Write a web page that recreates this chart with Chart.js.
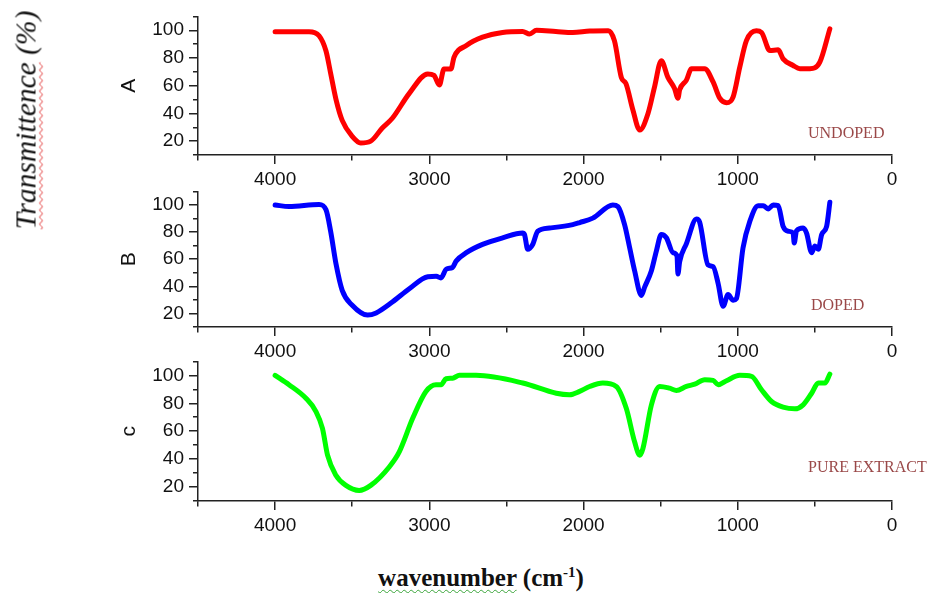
<!DOCTYPE html>
<html>
<head>
<meta charset="utf-8">
<script src="https://cdn.jsdelivr.net/npm/chart.js@4.4.1/dist/chart.umd.min.js"></script>
<style>
  html, body { margin: 0; padding: 0; background: #fff; overflow: hidden; }
  #wrap { position: relative; width: 927px; height: 593px; }
  canvas { position: absolute; left: 0; }
  .tag { position: absolute; transform: translateY(-50%); line-height: 1; white-space: nowrap;
         font: 16px "Liberation Serif", "Times New Roman", serif; color: #9a4848; }
  #ylab { position: absolute; left: 26px; top: 120px; white-space: nowrap; line-height: 1;
          transform: translate(-50%, -50%) rotate(-90deg);
          font: italic 29.5px "Liberation Serif", "Times New Roman", serif; color: #111; }
  #xlab { position: absolute; left: 481px; top: 578px; white-space: nowrap; line-height: 1;
          transform: translate(-50%, -50%);
          font: bold 25px "Liberation Serif", "Times New Roman", serif; color: #111; }
  .spell { text-decoration: underline wavy #e03030; text-decoration-thickness: 1px; text-underline-offset: 3px; }
  .gram { text-decoration: underline wavy #3aa53a; text-decoration-thickness: 1px; text-underline-offset: 3px; }
  sup { font-size: 60%; }
</style>
</head>
<body>
<div id="wrap">
  <canvas id="chart-a"></canvas>
  <canvas id="chart-b"></canvas>
  <canvas id="chart-c"></canvas>
  <div id="ylab"><span class="spell">Transmittence</span> (%)</div>
  <div id="xlab"><span class="gram">wavenumber</span> (cm<sup>-1</sup>)</div>
  <div class="tag" style="left:808px; top:133px;">UNDOPED</div>
  <div class="tag" style="left:811px; top:305px;">DOPED</div>
  <div class="tag" style="left:808px; top:467px;">PURE EXTRACT</div>
</div>
<script>
// wavenumber (cm-1) and transmittance (%)
const undopedWn = [4000, 3780, 3715, 3670, 3640, 3605, 3565, 3500, 3445, 3380,
  3305, 3240, 3130, 3010, 2970, 2935, 2905, 2860, 2840, 2760,
  2655, 2525, 2395, 2350, 2305, 2180, 2070, 1960, 1840, 1800,
  1755, 1725, 1680, 1636, 1582, 1540, 1496, 1453, 1410, 1388,
  1377, 1333, 1300, 1215, 1160, 1117, 1073, 1030, 987, 944,
  880, 846, 792, 738, 706, 641, 597, 532, 468, 403];
const undopedT = [99, 99, 96, 85, 69, 50, 35, 23.5, 18.7, 20,
  29.5, 36.5, 54.5, 68.5, 67.5, 60.5, 72, 72, 80.5, 89,
  95, 98.4, 99.1, 97.3, 100, 99.1, 98.3, 99.4, 99.6, 92.5,
  66, 61.5, 42.5, 28, 40, 59, 78, 66, 58, 51,
  57, 64, 72.3, 72.3, 62.7, 51, 47.7, 52, 73.4, 92.5,
  99.6, 98.4, 85.4, 85.9, 79.4, 74.6, 72.3, 72.3, 77, 101];

const dopedWn = [4000, 3910, 3715, 3670, 3640, 3605, 3565, 3500, 3400, 3345,
  3240, 3130, 3010, 2955, 2925, 2890, 2850, 2825, 2760, 2655,
  2525, 2395, 2383, 2362, 2330, 2297, 2220, 2070, 2025, 1940,
  1810, 1777, 1734, 1701, 1669, 1625, 1604, 1560, 1528, 1496,
  1463, 1420, 1394, 1388, 1377, 1333, 1268, 1247, 1193, 1160,
  1128, 1095, 1063, 1030, 1009, 966, 922, 868, 835, 803,
  770, 738, 706, 673, 641, 634, 619, 576, 554, 521,
  500, 478, 456, 424, 403];
const dopedT = [100, 98.8, 100.4, 96.4, 80.6, 56.4, 37, 26, 18.8, 20.4,
  28.4, 38.2, 47.1, 47.4, 46.2, 52.7, 53.9, 58.8, 64.8, 70.9,
  75.7, 79.3, 78.2, 67.3, 70.9, 80.6, 83, 85.5, 87, 90.3,
  100, 98.8, 85.5, 68.4, 51.5, 33.3, 39.4, 51.5, 66, 78.2,
  75.8, 64.8, 62.4, 49.1, 58.2, 71.5, 89.7, 87.3, 55.8, 54.5,
  42.4, 25.3, 33.9, 29.7, 30.9, 68.4, 87.9, 99.5, 99.5, 97.1,
  100, 99.5, 84.2, 80.6, 79.3, 72, 81, 83, 79.3, 64.8,
  69.7, 67.3, 78.2, 84.2, 102];

const extractWn = [4000, 3910, 3800, 3735, 3693, 3660, 3606, 3541, 3455, 3380,
  3260, 3195, 3108, 3022, 2957, 2924, 2892, 2849, 2805, 2697,
  2394, 2177, 2091, 2026, 1961, 1875, 1788, 1723, 1669, 1636,
  1615, 1560, 1506, 1442, 1398, 1333, 1279, 1214, 1160, 1127,
  1073, 987, 911, 846, 781, 706, 630, 576, 521, 478,
  435, 403];
const extractT = [100, 93.3, 83.6, 74.1, 62, 42.8, 28.4, 21.2, 17.6, 21.2,
  34.4, 45.2, 69.2, 88.5, 93.3, 93.3, 97.6, 98, 100, 100,
  94.5, 87.2, 86.1, 88.5, 92, 94.5, 92.1, 76.4, 52.4, 42.8,
  47.6, 78.9, 92.1, 90.8, 89.2, 92.1, 93.7, 96.9, 96.4, 93.3,
  96.2, 100, 99.3, 89.7, 81.3, 77.2, 76, 78.9, 87.2, 94.5,
  94.5, 100.9];

const xMajor = [4000, 3000, 2000, 1000, 0];
const yMajor = [20, 40, 60, 80, 100];

const axisColor = '#222';
const tickFont = { family: '"Liberation Sans", Arial, sans-serif', size: 19 };

function makePanel(id, letter, wn, t, color, top, height) {
  const canvas = document.getElementById(id);
  canvas.width = 927;
  canvas.height = height;
  canvas.style.top = top + 'px';

  new Chart(canvas, {
    type: 'line',
    data: {
      datasets: [{
        data: wn.map((x, i) => ({ x: x, y: t[i] })),
        borderColor: color,
        borderWidth: 5,
        pointRadius: 0,
        cubicInterpolationMode: 'monotone',
        borderJoinStyle: 'round',
        borderCapStyle: 'round',
        fill: false
      }]
    },
    options: {
      responsive: false,
      animation: false,
      devicePixelRatio: 1,
      layout: { padding: { left: 117, right: 35, top: 15, bottom: 0 } },
      plugins: { legend: { display: false }, tooltip: { enabled: false } },
      scales: {
        x: {
          type: 'linear',
          reverse: true,
          min: 0,
          max: 4500,
          afterFit: function(scale) { scale.height = 35; },
          ticks: {
            stepSize: 500,
            autoSkip: false,
            maxRotation: 0,
            padding: 4,
            color: '#111',
            font: tickFont,
            callback: v => xMajor.includes(v) ? String(v) : ''
          },
          grid: {
            drawOnChartArea: false,
            tickLength: 9,
            color: axisColor,
            lineWidth: 1.5,
            // minor ticks: only the first few px next to the axis
            tickBorderDash: c => (c.tick && xMajor.includes(c.tick.value)) ? [] : [5, 100]
          },
          border: { color: axisColor, width: 1.5 }
        },
        y: {
          min: 10,
          max: 110,
          afterFit: function(scale) { scale.width = 81; },
          title: {
            display: true,
            text: letter,
            padding: 0,
            color: '#111',
            font: { family: '"Liberation Sans", Arial, sans-serif', size: 21 }
          },
          ticks: {
            stepSize: 10,
            autoSkip: false,
            padding: 5,
            color: '#111',
            font: tickFont,
            callback: v => yMajor.includes(v) ? String(v) : ''
          },
          grid: {
            drawOnChartArea: false,
            tickLength: 9,
            color: axisColor,
            lineWidth: 1.5,
            tickBorderDash: c => (c.tick && yMajor.includes(c.tick.value)) ? [] : [0, 4, 5, 100]
          },
          border: { color: axisColor, width: 1.5 }
        }
      }
    }
  });
}

makePanel('chart-a', 'A', undopedWn, undopedT, '#ff0000', 0, 190);
makePanel('chart-b', 'B', dopedWn, dopedT, '#0000ff', 175, 187);
makePanel('chart-c', 'c', extractWn, extractT, '#00ff00', 345, 191);
</script>
</body>
</html>
